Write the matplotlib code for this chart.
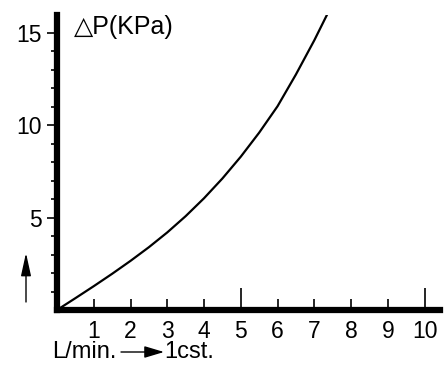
import numpy as np
import matplotlib
matplotlib.use('Agg')
import matplotlib.pyplot as plt

# Débit (L/min.) et perte de charge (KPa)
flow = [0, 0.5, 1, 1.5, 2, 2.5, 3, 3.5, 4, 4.5, 5, 5.5, 6, 6.5, 7, 7.35]
dp = [0, 0.64, 1.29, 1.96, 2.66, 3.40, 4.20, 5.08, 6.05, 7.12, 8.30, 9.60, 11.03, 12.75, 14.6, 16.0]

x_major = [5, 10]
x_minor = [1, 2, 3, 4, 6, 7, 8, 9]
y_major = [5, 10, 15]
y_minor = [1, 2, 3, 4, 6, 7, 8, 9, 11, 12, 13, 14]

plt.rcParams['font.family'] = ['Liberation Sans', 'DejaVu Sans']

W, H = 447, 367
fig = plt.figure(figsize=(W / 100, H / 100), dpi=100)

def fpos(x, y):
    # pixels -> fraction de la figure
    return x / W, 1 - y / H

ax = fig.add_axes([57 / W, 1 - 310 / H, (440 - 57) / W, (310 - 15) / H])
ax.plot(flow, dp, color='black', lw=1.6, solid_capstyle='round')

ax.set_xlim(0, 10.42)
ax.set_ylim(0, 15.97)

for s in ['top', 'right']:
    ax.spines[s].set_visible(False)
for s in ['left', 'bottom']:
    ax.spines[s].set_linewidth(4.5)
    ax.spines[s].set_capstyle('projecting')

ax.set_xticks(x_major)
ax.set_xticks(x_minor, minor=True)
ax.set_xticklabels([str(v) for v in x_major])
ax.set_xticklabels([str(v) for v in x_minor], minor=True)
ax.set_yticks(y_major)
ax.set_yticks(y_minor, minor=True)
ax.set_yticklabels([str(v) for v in y_major])

ax.tick_params(axis='x', which='major', direction='in', length=16, width=1.2, pad=7, labelsize=16.5)
ax.tick_params(axis='x', which='minor', direction='in', length=8, width=1.2, pad=7, labelsize=16.5)
ax.tick_params(axis='y', which='major', direction='out', length=7, width=1.2, pad=4, labelsize=16.5)
ax.tick_params(axis='y', which='minor', direction='out', length=4, width=1.2)

# titre de l'axe Y
fig.text(*fpos(74, 27), '△P(KPa)', fontsize=18, va='center', ha='left')

# flèche verticale à gauche
ax.annotate('', xy=fpos(26, 253), xytext=fpos(26, 302),
            xycoords='figure fraction', textcoords='figure fraction',
            arrowprops=dict(arrowstyle='-|>,head_length=1.0,head_width=0.22',
                            mutation_scale=14, lw=1.0, color='black',
                            shrinkA=0, shrinkB=0))

# légende de l'axe X
fig.text(*fpos(52, 352), 'L/min.', fontsize=17, va='center', ha='left')
ax.annotate('', xy=fpos(164, 352), xytext=fpos(121, 352),
            xycoords='figure fraction', textcoords='figure fraction',
            arrowprops=dict(arrowstyle='-|>,head_length=1.0,head_width=0.3',
                            mutation_scale=12, lw=1.0, color='black',
                            shrinkA=0, shrinkB=0))
fig.text(*fpos(164, 352), '1cst.', fontsize=17, va='center', ha='left')

fig.savefig('out.png', dpi=100)
